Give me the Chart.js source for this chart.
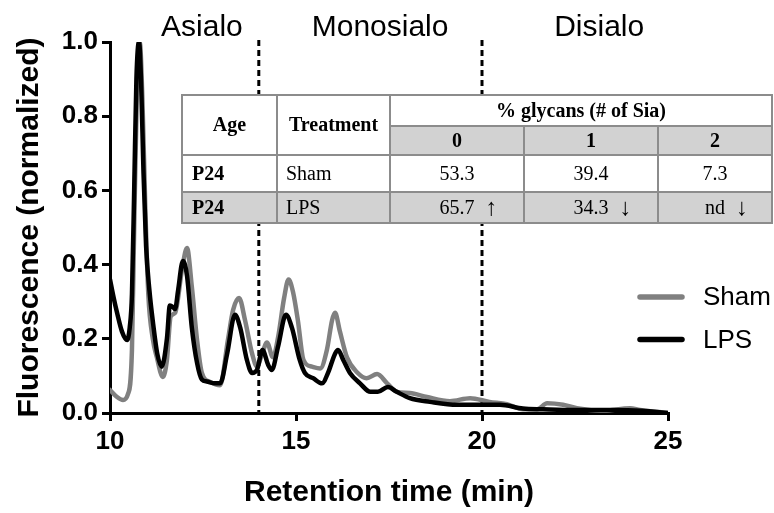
<!DOCTYPE html>
<html lang="en">
<head>
<meta charset="UTF-8">
<title>Glycan profile - Sham vs LPS</title>
<script src="https://cdn.jsdelivr.net/npm/chart.js"></script>
<style>
    body { margin: 0; background: #fff; }
    .chart-container { position: relative; width: 774px; height: 513px; }
</style>
</head>
<body>
<div class="chart-container"><canvas id="glycanChart"></canvas></div>
<script>
// traces: retention time (min) / normalized fluorescence
const shamTime = [10.0, 10.19, 10.35, 10.48, 10.59, 10.65, 10.72, 10.8, 10.87, 10.95, 11.03, 11.15, 11.26, 11.42, 11.53, 11.63, 11.75, 11.94, 12.07, 12.2, 12.34, 12.47, 12.69, 12.96, 13.17, 13.31, 13.47, 13.63, 13.82, 13.95, 14.09, 14.22, 14.38, 14.52, 14.68, 14.8, 14.92, 15.05, 15.2, 15.43, 15.65, 15.83, 15.97, 16.05, 16.18, 16.37, 16.64, 16.9, 17.18, 17.45, 17.71, 18.06, 18.52, 19.14, 19.68, 20.2, 20.67, 21.1, 21.48, 21.75, 22.18, 22.55, 23.25, 23.98, 24.25, 25.0];
const shamValues = [0.062, 0.043, 0.035, 0.05, 0.17, 0.5, 0.85, 1.0, 0.85, 0.55, 0.32, 0.2, 0.15, 0.097, 0.143, 0.26, 0.27, 0.39, 0.445, 0.34, 0.197, 0.108, 0.084, 0.075, 0.197, 0.278, 0.31, 0.25, 0.16, 0.125, 0.16, 0.19, 0.15, 0.205, 0.31, 0.36, 0.326, 0.25, 0.143, 0.125, 0.12, 0.17, 0.25, 0.27, 0.22, 0.15, 0.11, 0.094, 0.105, 0.08, 0.057, 0.054, 0.043, 0.032, 0.04, 0.03, 0.024, 0.01, 0.01, 0.026, 0.022, 0.013, 0.006, 0.013, 0.008, 0.0];
const lpsTime = [10.0, 10.1, 10.19, 10.32, 10.46, 10.53, 10.59, 10.65, 10.71, 10.78, 10.84, 10.9, 10.97, 11.06, 11.16, 11.27, 11.39, 11.53, 11.61, 11.7, 11.75, 11.83, 11.96, 12.07, 12.2, 12.34, 12.47, 12.6, 12.82, 12.96, 13.15, 13.36, 13.5, 13.68, 13.82, 13.95, 14.1, 14.25, 14.35, 14.52, 14.73, 14.89, 15.1, 15.24, 15.46, 15.7, 15.86, 16.05, 16.13, 16.27, 16.45, 16.72, 17.0, 17.2, 17.47, 17.71, 18.06, 18.6, 19.33, 20.03, 20.48, 21.1, 21.64, 22.5, 23.5, 24.3, 25.0];
const lpsValues = [0.36, 0.31, 0.27, 0.22, 0.197, 0.23, 0.32, 0.6, 0.9, 1.0, 0.88, 0.65, 0.45, 0.33, 0.24, 0.16, 0.125, 0.2, 0.29, 0.285, 0.28, 0.33, 0.41, 0.37, 0.23, 0.135, 0.09, 0.085, 0.08, 0.08, 0.16, 0.265, 0.23, 0.143, 0.108, 0.116, 0.17, 0.13, 0.116, 0.18, 0.265, 0.23, 0.143, 0.108, 0.094, 0.08, 0.108, 0.16, 0.17, 0.143, 0.108, 0.08, 0.057, 0.057, 0.07, 0.057, 0.04, 0.03, 0.022, 0.022, 0.022, 0.012, 0.01, 0.008, 0.008, 0.006, 0.0];

const seriesLabels = ['Sham', 'LPS'];
const xTicks = [10, 15, 20, 25];
const yTicks = [0, 0.2, 0.4, 0.6, 0.8, 1.0];

// fraction boundaries and names
const regionBounds = [14, 20];
const regionNames = ['Asialo', 'Monosialo', 'Disialo'];

// inset table
const tableHead = ['Age', 'Treatment', '% glycans (# of Sia)'];
const siaCounts = ['0', '1', '2'];
const tableRows = [
    ['P24', 'Sham', '53.3', '39.4', '7.3'],
    ['P24', 'LPS', '65.7', '34.3', 'nd']
];
const lpsTrend = ['\u2191', '\u2193', '\u2193'];

const sansFont = "'Liberation Sans', Arial, sans-serif";
const serifFont = "'Liberation Serif', 'Times New Roman', serif";

const regionPlugin = {
    id: 'regions',
    beforeDatasetsDraw(chart) {
        const {ctx, chartArea, scales: {x}} = chart;
        ctx.save();
        ctx.strokeStyle = '#000';
        ctx.lineWidth = 3;
        ctx.setLineDash([6, 4]);
        regionBounds.forEach(v => {
            const px = x.getPixelForValue(v);
            ctx.beginPath();
            ctx.moveTo(px, chartArea.top - 2);
            ctx.lineTo(px, chartArea.bottom);
            ctx.stroke();
        });
        ctx.restore();
    },
    afterDraw(chart, args, opts) {
        const {ctx, scales: {x}} = chart;
        ctx.save();
        ctx.fillStyle = '#000';
        ctx.font = '30px ' + sansFont;
        ctx.textAlign = 'center';
        ctx.textBaseline = 'alphabetic';
        regionNames.forEach((name, i) => {
            ctx.fillText(name, x.getPixelForValue(opts.labelAt[i]), 36);
        });
        ctx.restore();
    }
};

const tablePlugin = {
    id: 'insetTable',
    afterDatasetsDraw(chart, args, opts) {
        const ctx = chart.ctx;
        const cx = opts.cols, ry = opts.rows;
        const grey = '#d2d2d2';
        ctx.save();
        ctx.fillStyle = '#fff';
        ctx.fillRect(cx[0], ry[0], cx[5] - cx[0], ry[4] - ry[0]);
        ctx.fillStyle = grey;
        ctx.fillRect(cx[2], ry[1], cx[5] - cx[2], ry[2] - ry[1]);
        ctx.fillRect(cx[0], ry[3], cx[5] - cx[0], ry[4] - ry[3]);

        ctx.strokeStyle = '#8c8c8c';
        ctx.lineWidth = 2;
        ctx.strokeRect(cx[0], ry[0], cx[5] - cx[0], ry[4] - ry[0]);
        ctx.beginPath();
        [1, 2].forEach(i => { ctx.moveTo(cx[i], ry[0]); ctx.lineTo(cx[i], ry[4]); });
        [3, 4].forEach(i => { ctx.moveTo(cx[i], ry[1]); ctx.lineTo(cx[i], ry[4]); });
        ctx.moveTo(cx[2], ry[1]); ctx.lineTo(cx[5], ry[1]);
        [2, 3].forEach(i => { ctx.moveTo(cx[0], ry[i]); ctx.lineTo(cx[5], ry[i]); });
        ctx.stroke();

        const mid = (a, b) => (a + b) / 2;
        ctx.fillStyle = '#000';
        ctx.textBaseline = 'middle';
        ctx.textAlign = 'center';
        ctx.font = 'bold 20px ' + serifFont;
        ctx.fillText(tableHead[0], mid(cx[0], cx[1]), mid(ry[0], ry[2]) + 1);
        ctx.fillText(tableHead[1], mid(cx[1], cx[2]), mid(ry[0], ry[2]) + 1);
        ctx.fillText(tableHead[2], mid(cx[2], cx[5]), mid(ry[0], ry[1]) + 1);
        siaCounts.forEach((s, i) => ctx.fillText(s, mid(cx[i + 2], cx[i + 3]), mid(ry[1], ry[2]) + 1));

        tableRows.forEach((row, r) => {
            const y = mid(ry[r + 2], ry[r + 3]) + 1;
            ctx.textAlign = 'left';
            ctx.font = 'bold 20px ' + serifFont;
            ctx.fillText(row[0], cx[0] + 10, y);
            ctx.font = '20px ' + serifFont;
            ctx.fillText(row[1], cx[1] + 9, y);
            ctx.textAlign = 'center';
            for (let c = 2; c < 5; c++) {
                const xc = mid(cx[c], cx[c + 1]);
                ctx.font = '20px ' + serifFont;
                ctx.fillText(row[c], xc, y);
                if (row[1] === 'LPS') {
                    const w = ctx.measureText(row[c]).width;
                    ctx.font = 'bold 24px ' + sansFont;
                    ctx.fillText(lpsTrend[c - 2], xc + w / 2 + 17, y);
                }
            }
        });
        ctx.restore();
    }
};

const legendPlugin = {
    id: 'sideLegend',
    afterDraw(chart, args, opts) {
        const ctx = chart.ctx;
        ctx.save();
        ctx.font = '26px ' + sansFont;
        ctx.textBaseline = 'middle';
        ctx.textAlign = 'left';
        chart.data.datasets.forEach((ds, i) => {
            const y = opts.top + i * opts.spacing;
            ctx.strokeStyle = ds.borderColor;
            ctx.lineWidth = 5.5;
            ctx.lineCap = 'round';
            ctx.beginPath();
            ctx.moveTo(opts.left, y);
            ctx.lineTo(opts.left + 42, y);
            ctx.stroke();
            ctx.fillStyle = '#000';
            ctx.fillText(ds.label, opts.left + 63, y + 1);
        });
        ctx.restore();
    }
};

const toPoints = (xs, ys) => xs.map((t, i) => ({x: t, y: ys[i]}));

new Chart(document.getElementById('glycanChart'), {
    type: 'line',
    data: {
        datasets: [{
            label: seriesLabels[0],
            data: toPoints(shamTime, shamValues),
            borderColor: '#808080',
            order: 1
        }, {
            label: seriesLabels[1],
            data: toPoints(lpsTime, lpsValues),
            borderColor: '#000000',
            order: 0
        }]
    },
    options: {
        responsive: true,
        maintainAspectRatio: false,
        animation: false,
        layout: { padding: { top: 42, right: 106, left: 0, bottom: 0 } },
        elements: {
            point: { radius: 0 },
            line: { borderWidth: 4.5, cubicInterpolationMode: 'monotone', borderJoinStyle: 'round', borderCapStyle: 'round' }
        },
        scales: {
            x: {
                type: 'linear',
                min: 10,
                max: 25,
                afterBuildTicks: s => { s.ticks = xTicks.map(v => ({value: v})); },
                afterFit: s => { s.height = 100; },
                border: { color: '#000', width: 3 },
                grid: { drawOnChartArea: false, color: '#000', lineWidth: 3, tickLength: 8 },
                ticks: { color: '#000', padding: 5, maxRotation: 0, font: { family: sansFont, size: 26, weight: 'bold' } },
                title: {
                    display: true,
                    text: 'Retention time (min)',
                    color: '#000',
                    padding: { top: 0, bottom: 2 },
                    font: { family: sansFont, size: 30, weight: 'bold', lineHeight: 1.2 }
                }
            },
            y: {
                min: 0,
                max: 1,
                afterBuildTicks: s => { s.ticks = yTicks.map(v => ({value: v})); },
                afterFit: s => { s.width = 110; },
                border: { color: '#000', width: 3 },
                grid: { drawOnChartArea: false, color: '#000', lineWidth: 3, tickLength: 8 },
                ticks: {
                    color: '#000',
                    padding: 4,
                    font: { family: sansFont, size: 26, weight: 'bold' },
                    callback: v => v.toFixed(1)
                },
                title: {
                    display: true,
                    text: 'Fluorescence (normalized)',
                    color: '#000',
                    padding: { top: 12, bottom: 0 },
                    font: { family: sansFont, size: 30, weight: 'bold', lineHeight: 1.2 }
                }
            }
        },
        plugins: {
            legend: { display: false },
            tooltip: { enabled: false },
            regions: { labelAt: [12.47, 17.26, 23.15] },
            insetTable: { cols: [182, 277, 390, 524, 658, 772], rows: [95, 126, 155, 192, 223] },
            sideLegend: { left: 640, top: 297, spacing: 42.5 }
        }
    },
    plugins: [regionPlugin, tablePlugin, legendPlugin]
});
</script>
</body>
</html>
